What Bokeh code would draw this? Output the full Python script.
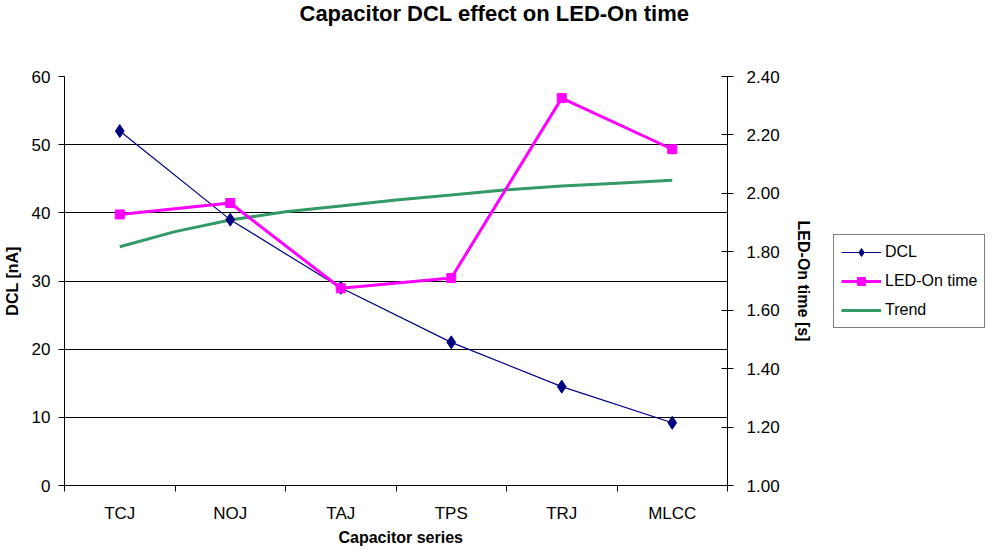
from bokeh.plotting import figure
from bokeh.layouts import row, column
from bokeh.models import (Range1d, LinearAxis, FixedTicker, PrintfTickFormatter,
                          Legend, LegendItem, Title)
from bokeh.core.properties import value
from bokeh.embed import file_html
from bokeh.resources import INLINE

# ---- data ----
categories = ["TCJ", "NOJ", "TAJ", "TPS", "TRJ", "MLCC"]
dcl = [52.0, 39.0, 29.0, 21.0, 14.5, 9.2]                  # nA, left axis
led_on = [1.928, 1.967, 1.675, 1.710, 2.326, 2.151]        # s, right axis
trend_at = [1, 1.5, 2, 2.5, 3, 3.5, 4, 4.5, 5, 5.5, 6]     # category index (read points)
trend = [1.817, 1.869, 1.909, 1.937, 1.957, 1.977, 1.994, 2.012, 2.025, 2.035, 2.045]
left_ticks = [0, 10, 20, 30, 40, 50, 60]
right_ticks = [1.00, 1.20, 1.40, 1.60, 1.80, 2.00, 2.20, 2.40]
series_names = ["DCL", "LED-On time", "Trend"]
x_title = "Capacitor series"

xpos = [i + 1 for i in range(len(categories))]
bounds = [i + 0.5 for i in range(len(categories) + 1)]

FONT = "Liberation Sans"
C_DCL, C_LED, C_TR = "#000080", "#FF00FF", "#339966"

p = figure(width=820, height=528, output_backend="svg", toolbar_location=None,
           x_range=Range1d(0.5, len(categories) + 0.5), y_range=Range1d(0, 60),
           min_border_left=60, min_border_right=93, min_border_top=0,
           min_border_bottom=43, outline_line_color=None)

# main title (outermost)
p.title.text = "Capacitor DCL effect on LED-On time"
p.title.text_font = FONT
p.title.text_font_size = "22px"
p.title.text_font_style = "bold"
p.title.text_color = "black"
p.title.align = "left"
p.title.offset = 235
p.title.vertical_align = "top"
p.title.standoff = 0

# spacer between title and frame
p.add_layout(Title(text=" ", text_font_size="2px", standoff=45), "above")

p.extra_y_ranges = {"right": Range1d(1.0, 2.4)}

# x axis
xa = p.xaxis[0]
xa.ticker = FixedTicker(ticks=xpos, minor_ticks=bounds)
xa.major_label_overrides = {x: c for x, c in zip(xpos, categories)}
xa.major_tick_out = 0
xa.major_tick_in = 0
xa.minor_tick_out = 6
xa.minor_tick_in = 0
xa.minor_tick_line_color = "black"
xa.axis_line_color = "black"
xa.major_label_standoff = 12
xa.major_label_text_font = FONT
xa.major_label_text_font_size = "17px"
xa.major_label_text_color = "black"

# left axis
ya = p.yaxis[0]
ya.ticker = FixedTicker(ticks=left_ticks)
ya.major_tick_out = 6
ya.major_tick_in = 0
ya.minor_tick_out = 0
ya.minor_tick_in = 0
ya.axis_line_color = "black"
ya.major_tick_line_color = "black"
ya.major_label_standoff = 8
ya.major_label_text_font = FONT
ya.major_label_text_font_size = "17px"
ya.major_label_text_color = "black"
ya.axis_label = "DCL [nA]"
ya.axis_label_text_font = FONT
ya.axis_label_text_font_size = "16px"
ya.axis_label_text_font_style = "bold"
ya.axis_label_text_color = "black"
ya.axis_label_standoff = 8

# right axis
ra = LinearAxis(y_range_name="right", ticker=FixedTicker(ticks=right_ticks),
                formatter=PrintfTickFormatter(format="%.2f"))
ra.major_tick_out = 6
ra.major_tick_in = 6
ra.minor_tick_out = 0
ra.minor_tick_in = 0
ra.axis_line_color = "black"
ra.major_tick_line_color = "black"
ra.major_label_standoff = 13
ra.major_label_text_font = FONT
ra.major_label_text_font_size = "17px"
ra.major_label_text_color = "black"
ra.axis_label = "LED-On time [s]"
ra.axis_label_text_font = FONT
ra.axis_label_text_font_size = "16px"
ra.axis_label_text_font_style = "bold"
ra.axis_label_text_color = "black"
ra.axis_label_standoff = 12
p.add_layout(ra, "right")

# grids
p.xgrid.visible = False
p.ygrid.ticker = FixedTicker(ticks=left_ticks)
p.ygrid.grid_line_color = "black"
p.ygrid.grid_line_width = 1

# series
p.line(trend_at, trend, y_range_name="right", line_color=C_TR, line_width=3)
p.line(xpos, dcl, line_color=C_DCL, line_width=1.2)
p.scatter(xpos, dcl, marker="diamond", size=13, fill_color=C_DCL, line_color=C_DCL)
p.line(xpos, led_on, y_range_name="right", line_color=C_LED, line_width=3)
p.scatter(xpos, led_on, y_range_name="right", marker="square", size=9,
          fill_color=C_LED, line_color=C_LED)

# ---- legend panel (separate figure to the right) ----
lg = figure(width=167, height=528, output_backend="svg", toolbar_location=None,
            x_range=Range1d(0, 1), y_range=Range1d(0, 1),
            x_axis_type=None, y_axis_type=None, min_border=0,
            outline_line_color=None)
lg.xgrid.visible = False
lg.ygrid.visible = False
hid = [-10]  # legend keys only: outside the visible range
k_dcl_l = lg.line(hid, hid, line_color=C_DCL, line_width=1.2)
k_dcl_m = lg.scatter(hid, hid, marker="diamond", size=13, fill_color=C_DCL, line_color=C_DCL)
k_led_l = lg.line(hid, hid, line_color=C_LED, line_width=3)
k_led_m = lg.scatter(hid, hid, marker="square", size=9, fill_color=C_LED, line_color=C_LED)
k_tr = lg.line(hid, hid, line_color=C_TR, line_width=3)

legend = Legend(items=[LegendItem(label=series_names[0], renderers=[k_dcl_l, k_dcl_m]),
                       LegendItem(label=series_names[1], renderers=[k_led_l, k_led_m]),
                       LegendItem(label=series_names[2], renderers=[k_tr])],
                location=(13, 157))
legend.label_text_font = FONT
legend.label_text_font_size = "16px"
legend.label_text_color = "black"
legend.glyph_width = 40
legend.glyph_height = 20
legend.label_height = 20
legend.label_standoff = 4
legend.spacing = 9
legend.padding = 7
legend.margin = 0
legend.border_line_color = "black"
legend.border_line_width = 1
legend.background_fill_color = "white"
legend.background_fill_alpha = 1
lg.add_layout(legend, "center")

# ---- x-axis title strip below ----
bt = figure(width=987, height=20, output_backend="svg", toolbar_location=None,
            x_range=Range1d(0, 1), y_range=Range1d(0, 1),
            x_axis_type=None, y_axis_type=None, min_border=0,
            outline_line_color=None)
bt.xgrid.visible = False
bt.ygrid.visible = False
bt.text(x=[0.4055], y=[0.55], text=[x_title], text_align="center", text_baseline="middle",
        text_font=value(FONT), text_font_size="16px", text_font_style="bold",
        text_color="black")

layout = column(row(p, lg), bt)
open("out.html", "w").write(file_html(layout, INLINE))
